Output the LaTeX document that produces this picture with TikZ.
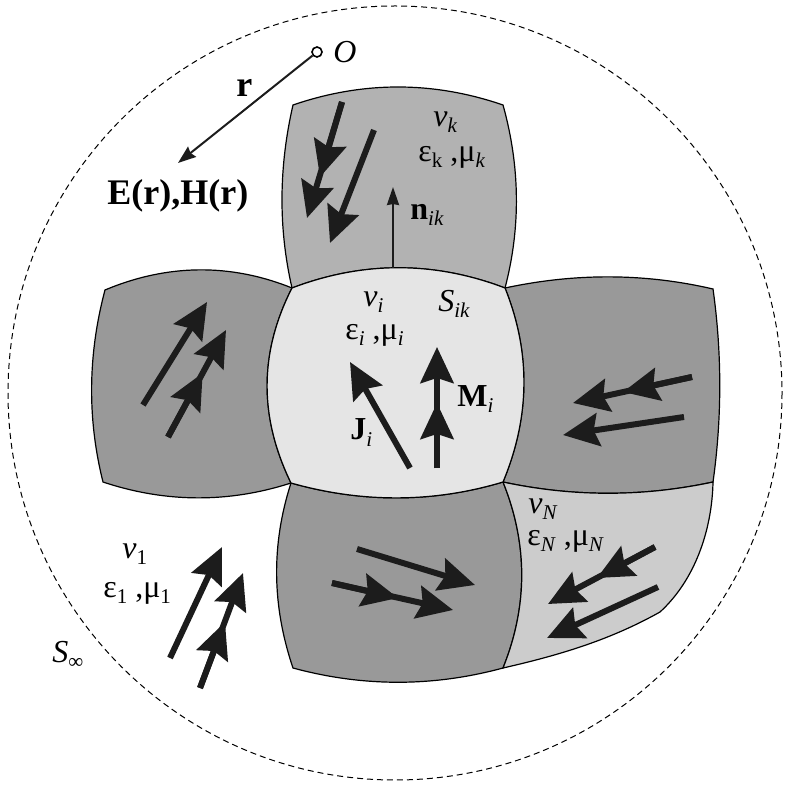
\documentclass[tikz,border=0pt]{standalone}
\usepackage{fontspec}
\setmainfont{Liberation Serif}
\usetikzlibrary{arrows.meta}
\definecolor{cC}{gray}{0.90}
\definecolor{cK}{gray}{0.70}
\definecolor{cD}{gray}{0.60}
\definecolor{cN}{gray}{0.80}
\definecolor{arrowc}{gray}{0.11}
\newcommand\sbs[1]{\raisebox{-3pt}{\fontsize{10.5}{10.5}\selectfont #1}}
\tikzset{
  cellbd/.style={draw=black, line width=0.6pt},
  fld/.style={line width=3pt, draw=arrowc, -{Stealth[length=18pt,width=16.5pt,inset=2.5pt]}},
  thinarr/.style={line width=1pt, draw=arrowc, -{Stealth[length=9pt,width=6.5pt,inset=1pt]}},
  narr/.style={line width=1.1pt, draw=arrowc, -{Stealth[length=9pt,width=6pt,inset=0.5pt]}},
  lbl/.style={inner sep=0pt, anchor=base west, font=\fontsize{16}{16}\selectfont},
  blbl/.style={inner sep=0pt, anchor=base west, font=\fontsize{18}{18}\selectfont\bfseries},
}
\begin{document}
\begin{tikzpicture}[x=0.5pt,y=-0.5pt]
\useasboundingbox (0,0) rectangle (786,785);
% outer surface
\draw[dashed, dash pattern=on 3pt off 2pt, line width=0.5pt] (395,393) circle [radius=387];
% top cell k
\path[cellbd, fill=cK] (292,288) .. controls (278,227) and (279,166) .. (293,105)
  .. controls (363,81) and (433,81) .. (503,105)
  .. controls (520,166) and (521,227) .. (505,288)
  .. controls (434,261) and (363,261) .. (292,288) -- cycle;
% left cell
\path[cellbd, fill=cD] (105,290) .. controls (167,264) and (230,263) .. (292,288)
  .. controls (259,353) and (259,417) .. (291,483)
  .. controls (229,503) and (166,503) .. (103,482)
  .. controls (87,418) and (88,354) .. (105,290) -- cycle;
% right cell
\path[cellbd, fill=cD] (505,288) .. controls (575,273) and (644,273) .. (713,289)
  .. controls (722,353) and (722,418) .. (713,482)
  .. controls (643,497) and (573,497) .. (503,482)
  .. controls (530,417) and (531,353) .. (505,288) -- cycle;
% bottom cell
\path[cellbd, fill=cD] (291,483) .. controls (362,503) and (433,503) .. (503,482)
  .. controls (528,544) and (528,606) .. (503,668)
  .. controls (433,687) and (363,687) .. (293,668)
  .. controls (272,606) and (271,545) .. (291,483) -- cycle;
% cell N
\path[cellbd, fill=cN] (503,482) .. controls (573,497) and (643,497) .. (713,482)
  .. controls (712,530) and (695,580) .. (660,612)
  .. controls (610,640) and (560,655) .. (503,668)
  .. controls (528,606) and (528,544) .. (503,482) -- cycle;
% central cell i
\path[cellbd, fill=cC] (292,288) .. controls (363,261) and (434,261) .. (505,288)
  .. controls (531,353) and (530,417) .. (503,482)
  .. controls (433,503) and (362,503) .. (291,483)
  .. controls (259,417) and (259,353) .. (292,288) -- cycle;

% field arrows: top cell
\draw[fld] (342,102) -- (307,218);
\draw[fld] (342,102) -- (320,177);
\draw[fld] (374,130) -- (330,243);
% central cell
\draw[fld] (410,468) -- (350,362);
\draw[fld] (437,468) -- (437,347);
\draw[fld] (437,468) -- (437,403);
% left cell
\draw[fld] (143,405) -- (207,302);
\draw[fld] (168,437) -- (226,330);
\draw[fld] (168,437) -- (202.7,373);
% right cell
\draw[fld] (692,377) -- (573,403);
\draw[fld] (692,377) -- (623,392);
\draw[fld] (684,417) -- (563,435);
% bottom cell
\draw[fld] (357,549) -- (475,585);
\draw[fld] (332,583) -- (453,610);
\draw[fld] (332,583) -- (398,598);
% cell N
\draw[fld] (655,547) -- (548,604);
\draw[fld] (655,547) -- (597,578);
\draw[fld] (658,587) -- (547,638);
% outer region 1
\draw[fld] (170,658) -- (222,547);
\draw[fld] (200,688) -- (243,573);
\draw[fld] (200,688) -- (225,622);

% normal n_ik
\coordinate (nb) at (393,268);
\coordinate (nt) at (393,187);
\draw[narr] (nb) -- (nt);

% observation point
\node[circle, draw, fill=white, inner sep=0pt, minimum size=5pt, line width=0.8pt] (o) at (317,52) {};
\coordinate (rtip) at (178,163);
\draw[thinarr] (o) -- (rtip);

% labels
\node[lbl] (lO) at (333,63) {\textit{O}};
\node[blbl] (lr) at (236,97) {r};
\node[blbl] (lEH) at (107,205) {E(r),H(r)};
\node[lbl] (lvk) at (433,127) {\textit{v}\sbs{\textit{k}}};
\node[lbl] (lek) at (418,162) {ε\sbs{k} ,μ\sbs{\textit{k}}};
\node[lbl] (lnik) at (410,220) {\textbf{n}\sbs{\textit{ik}}};
\node[lbl] (lvi) at (363,307) {\textit{v}\sbs{\textit{i}}};
\node[lbl] (lSik) at (438,312) {\textit{S}\sbs{\textit{ik}}};
\node[lbl] (lei) at (345,340) {ε\sbs{\textit{i}} ,μ\sbs{\textit{i}}};
\node[lbl] (lMi) at (457,407) {\textbf{M}\sbs{\textit{i}}};
\node[lbl] (lJi) at (350,440) {\textbf{J}\sbs{\textit{i}}};
\node[lbl] (lvN) at (528,513) {\textit{v}\sbs{\textit{N}}};
\node[lbl] (leN) at (527,545) {ε\sbs{\textit{N}} ,μ\sbs{\textit{N}}};
\node[lbl] (lv1) at (122,558) {\textit{v}\sbs{1}};
\node[lbl] (le1) at (103,597) {ε\sbs{1} ,μ\sbs{1}};
\node[lbl] (lSinf) at (52,662) {\textit{S}\sbs{∞}};
\end{tikzpicture}
\end{document}
